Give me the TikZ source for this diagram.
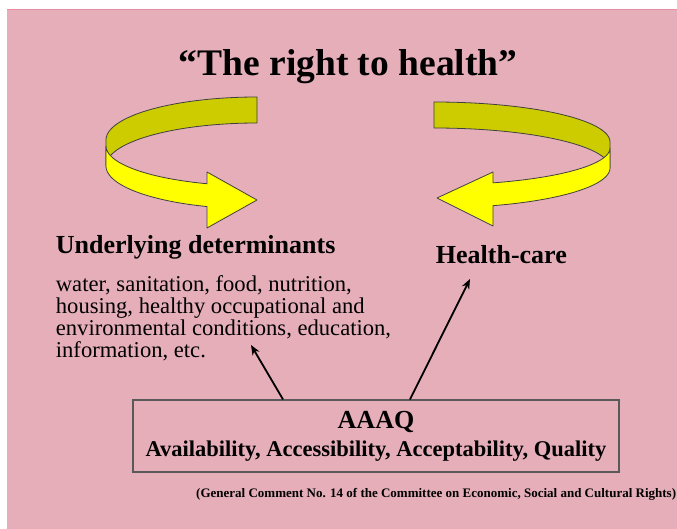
\documentclass[tikz,border=0pt]{standalone}
\usepackage{fontspec}
\setmainfont{Liberation Serif}
\usetikzlibrary{arrows.meta,positioning}
\definecolor{slidepink}{RGB}{229,174,185}
\definecolor{edgepink}{RGB}{232,140,160}
\definecolor{bandolive}{RGB}{204,204,0}
\definecolor{bandyellow}{RGB}{255,255,0}

\begin{document}
\begin{tikzpicture}[x=1pt, y=-1pt, >={Stealth[length=10pt,width=8pt]}, line width=1.8pt,
                band/.style={draw=black!75, line width=0.8pt, line join=round},
                heading/.style={font=\bfseries\fontsize{26}{30}\selectfont, inner sep=0pt},
                bodytext/.style={font=\fontsize{22.6}{22}\selectfont, inner sep=0pt,
                        align=left},
                aaaqbox/.style={draw=black!65, line width=1.2pt, align=center,
                        minimum width=486pt, minimum height=72pt, inner sep=0pt,
                        font=\bfseries\fontsize{22.5}{28}\selectfont}]

        \useasboundingbox (0,0) rectangle (677,529);
        \fill[slidepink] (7,9) rectangle (677,529);
        \draw[edgepink, line width=1.5pt] (7,9.75) -- (677,9.75);

        % left ribbon: back band, then front band with head
        \filldraw[band, fill=bandolive]
                plot[domain=90:180, samples=40] ({257+151*cos(\x)},{140-43*sin(\x)})
                -- plot[domain=180:90, samples=40] ({257+151*cos(\x)},{166-43*sin(\x)}) -- cycle;
        \filldraw[band, fill=bandyellow]
                plot[domain=180:250.7, samples=40] ({257+151*cos(\x)},{146-40*sin(\x)})
                -- (207,172) -- (257,200) -- (207,228)
                -- plot[domain=250.7:180, samples=40] ({257+151*cos(\x)},{166-43*sin(\x)}) -- cycle;

        % right ribbon
        \filldraw[band, fill=bandolive]
                plot[domain=90:0, samples=40] ({434+176*cos(\x)},{142-40*sin(\x)})
                -- plot[domain=0:90, samples=40] ({434+176*cos(\x)},{168-40*sin(\x)}) -- cycle;
        \filldraw[band, fill=bandyellow]
                plot[domain=360:289.6, samples=40] ({434+176*cos(\x)},{148-37*sin(\x)})
                -- (493,172) -- (437,198) -- (493,226)
                -- plot[domain=289.6:360, samples=40] ({434+176*cos(\x)},{168-40*sin(\x)}) -- cycle;

        \node[font=\bfseries\fontsize{37.5}{40}\selectfont, inner sep=0pt] (title) at (348,67) {“The right to health”};

        \node[heading, anchor=west] (det) at (55,247) {Underlying determinants};
        \node[bodytext, anchor=north west] (dettext) at (55,275)
                {water, sanitation, food, nutrition,\\ housing, healthy occupational and\\
                 environmental conditions, education,\\ information, etc.};

        \node[heading, anchor=west] (hc) at (435,255) {Health-care};

        \node[aaaqbox] (box) at (376,436)
                {{\fontsize{26}{28}\selectfont AAAQ}\\ Availability, Accessibility, Acceptability, Quality};

        \node[font=\bfseries\fontsize{13}{15}\selectfont, inner sep=0pt, anchor=east] (src) at (677,494)
                {(General Comment No. 14 of the Committee on Economic, Social and Cultural Rights)};

        \coordinate (dtip) at (251,345);
        \coordinate (hctip) at (470,279);
        \draw[->] ([xshift=-93pt]box.north) -- (dtip);
        \draw[->] ([xshift=34pt]box.north) -- (hctip);
\end{tikzpicture}
\end{document}
